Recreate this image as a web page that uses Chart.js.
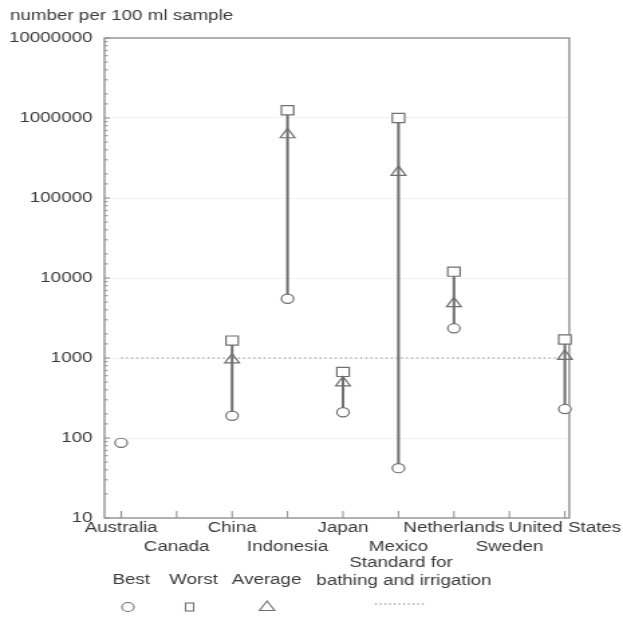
<!DOCTYPE html>
<html>
<head>
<meta charset="utf-8">
<script src="https://cdn.jsdelivr.net/npm/chart.js@4.4.0/dist/chart.umd.min.js"></script>
<style>
  html, body { margin: 0; padding: 0; background: #fff; overflow: hidden; }
  /* the source scan is stretched sideways, so the canvas is too */
  #wrap { width: 465px; height: 617px; transform: scaleX(1.3398); transform-origin: 0 0; }
</style>
</head>
<body>
<div id="wrap"><canvas id="chart" width="465" height="617"></canvas></div>
<script>
const categories = ['Australia', 'Canada', 'China', 'Indonesia', 'Japan', 'Mexico', 'Netherlands', 'Sweden', 'United States'];
const bestValues = [87, null, 190, 5500, 210, 42, 2350, null, 230];
const worstValues = [null, null, 1650, 1250000, 670, 1000000, 12000, null, 1700];
const averageValues = [null, null, 950, 620000, 490, 210000, 4800, null, 1050];
const standardValues = [1000, 1000, 1000, 1000, 1000, 1000, 1000, 1000, 1000];
const yTickValues = [10, 100, 1000, 10000, 100000, 1000000, 10000000];

const FONT = '"Liberation Sans", Arial, Helvetica, sans-serif';
const TEXT = '#3a3a3a';
const MARK = '#707070';

function isDecade(v) {
  const l = Math.log10(v);
  return Math.abs(l - Math.round(l)) < 1e-9;
}

// frame, inward ticks, title and legend
const decorPlugin = {
  id: 'decor',
  beforeDatasetsDraw(chart) {
    const { ctx, chartArea: a, scales } = chart;
    ctx.save();
    ctx.strokeStyle = '#8a8a8a';
    ctx.lineWidth = 1.3;
    ctx.strokeRect(a.left, a.top, a.right - a.left, a.bottom - a.top);
    ctx.lineWidth = 1;
    ctx.beginPath();
    categories.forEach((c, i) => {
      const x = scales.x.getPixelForValue(i);
      ctx.moveTo(x, a.bottom);
      ctx.lineTo(x, a.bottom - 7);
    });
    scales.y.ticks.forEach(t => {
      const y = scales.y.getPixelForValue(t.value);
      ctx.moveTo(a.left, y);
      ctx.lineTo(a.left + (isDecade(t.value) ? 4 : 2.5), y);
    });
    ctx.stroke();
    ctx.restore();
  },
  afterDraw(chart) {
    const { ctx } = chart;
    ctx.save();
    ctx.fillStyle = TEXT;
    ctx.font = '14px ' + FONT;
    ctx.textBaseline = 'middle';
    ctx.textAlign = 'left';
    ctx.fillText('number per 100 ml sample', 7.5, 16);

    ctx.textAlign = 'center';
    ctx.fillText('Best', 98, 580);
    ctx.fillText('Worst', 144.5, 580);
    ctx.fillText('Average', 199, 580);
    ctx.fillText('Standard for', 299.3, 563);
    ctx.fillText('bathing and irrigation', 301.5, 581);

    ctx.strokeStyle = MARK;
    ctx.lineWidth = 1.1;
    ctx.beginPath();
    ctx.arc(95.5, 607, 4.5, 0, Math.PI * 2);
    ctx.stroke();
    ctx.strokeRect(138.5, 603, 6, 8);
    ctx.beginPath();
    ctx.moveTo(199.3, 601);
    ctx.lineTo(205, 610.5);
    ctx.lineTo(193.6, 610.5);
    ctx.closePath();
    ctx.stroke();
    ctx.setLineDash([1.2, 2.3]);
    ctx.beginPath();
    ctx.moveTo(280, 604);
    ctx.lineTo(317, 604);
    ctx.stroke();
    ctx.restore();
  }
};

const rangeData = categories.map((c, i) =>
  ({ x: i, y: (bestValues[i] != null && worstValues[i] != null) ? [bestValues[i], worstValues[i]] : null }));
const toPoints = arr => arr.map((v, i) => ({ x: i, y: v }));

new Chart(document.getElementById('chart'), {
  type: 'bar',
  data: {
    datasets: [
      {
        label: 'Range',
        data: rangeData,
        backgroundColor: MARK,
        barThickness: 1.4,
        clip: false,
        order: 10
      },
      {
        type: 'line',
        label: 'Standard for bathing and irrigation',
        data: toPoints(standardValues),
        borderColor: '#808080',
        borderWidth: 1.1,
        borderDash: [1.2, 2.6],
        pointRadius: 0,
        clip: false,
        order: 9
      },
      {
        type: 'line',
        label: 'Best',
        data: toPoints(bestValues),
        showLine: false,
        pointStyle: 'circle',
        pointRadius: 4.6,
        pointBorderWidth: 1.2,
        pointBorderColor: MARK,
        pointBackgroundColor: '#fff',
        clip: false,
        order: 2
      },
      {
        type: 'line',
        label: 'Worst',
        data: toPoints(worstValues),
        showLine: false,
        pointStyle: 'rect',
        pointRadius: 6.5,
        pointBorderWidth: 1.2,
        pointBorderColor: MARK,
        pointBackgroundColor: '#fff',
        clip: false,
        order: 3
      },
      {
        type: 'line',
        label: 'Average',
        data: toPoints(averageValues),
        showLine: false,
        pointStyle: 'triangle',
        pointRadius: 6.3,
        pointBorderWidth: 1.2,
        pointBorderColor: MARK,
        pointBackgroundColor: 'rgba(255,255,255,0)',
        clip: false,
        order: 1
      }
    ]
  },
  options: {
    responsive: false,
    devicePixelRatio: 1,
    animation: false,
    layout: { padding: { top: 38, right: 40, left: 0, bottom: 0 } },
    plugins: { legend: { display: false }, tooltip: { enabled: false } },
    scales: {
      x: {
        type: 'linear',
        offset: false,
        min: -0.3,
        max: 8.08,
        afterBuildTicks: s => { s.ticks = categories.map((c, i) => ({ value: i })); },
        afterFit: s => { s.height = 99; },
        grid: { display: false, drawTicks: false, offset: false },
        border: { display: false },
        ticks: {
          autoSkip: false,
          maxRotation: 0,
          padding: 1,
          color: TEXT,
          font: { family: FONT, size: 14, lineHeight: 1.36 },
          callback: v => {
            const name = categories[Math.round(v)] || '';
            return Math.round(v) % 2 === 0 ? [name] : ['', name];
          }
        }
      },
      y: {
        type: 'logarithmic',
        min: yTickValues[0],
        max: yTickValues[yTickValues.length - 1],
        afterFit: s => { s.width = 78; },
        grid: {
          drawTicks: false,
          color: ctx => isDecade(ctx.tick.value) ? 'rgba(0,0,0,0.05)' : 'rgba(0,0,0,0)'
        },
        border: { display: false },
        ticks: {
          autoSkip: false,
          padding: 9,
          color: TEXT,
          font: { family: FONT, size: 14 },
          callback: v => yTickValues.includes(v) ? String(v) : ''
        }
      }
    }
  },
  plugins: [decorPlugin]
});
</script>
</body>
</html>
